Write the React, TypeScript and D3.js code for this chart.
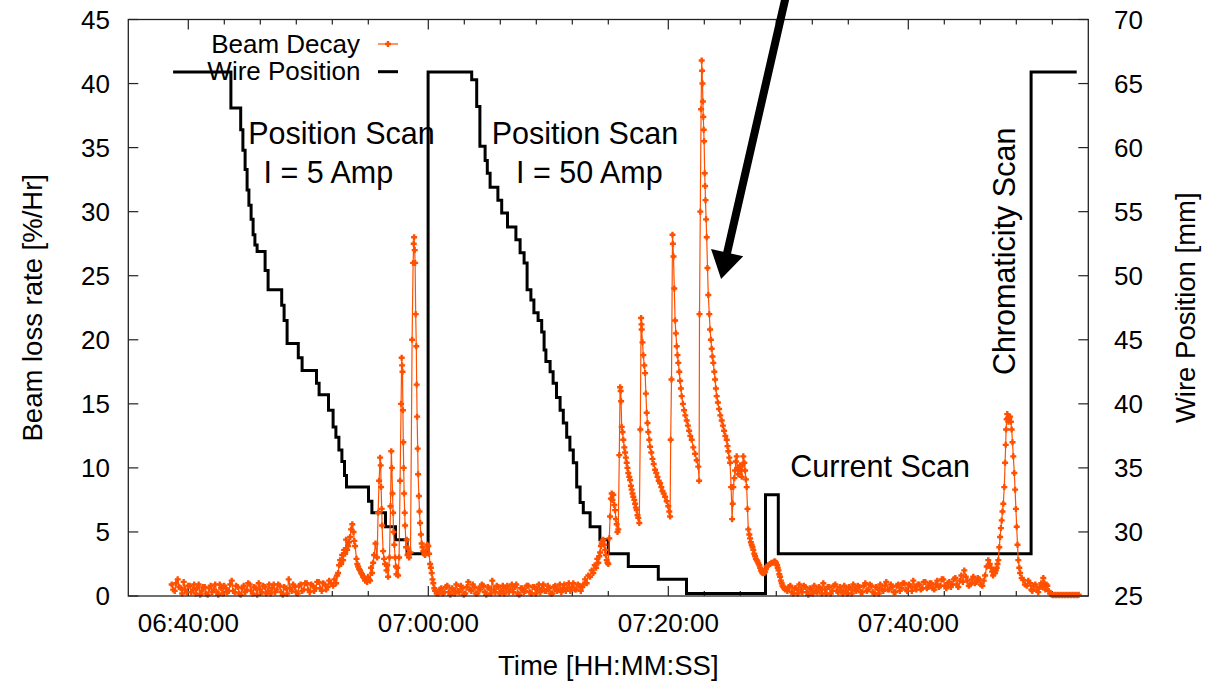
import React from "react";
import * as d3 from "d3";

const parseTime = d3.timeParse("%H:%M:%S") as (s: string) => Date;
const fmtTime = d3.timeFormat("%H:%M:%S");

// ---------- axes ----------
const timeDomain = ["06:35:00", "07:55:00"];
const beamDomain = [0, 45];
const wireDomain = [25, 70];
const majorTickMinutes = 20;
const minorTickMinutes = 3;
const minorTicksPerMajor = 5;

// ---------- Beam Decay [%/Hr] ----------
const sampleStepMs = 7500;

const quiet1Start = "06:38:37";
const quiet1Values = [
  0.9, 0.5, 0.4, 1.0, 1.3, 0.7, 0.6, 0.2, 1.1, 0.5,
  0.3, 0.8, 0.8, 0.3, 0.5, 0.9, 0.2, 0.6, 0.9, 0.1,
  0.4, 0.7, 0.7, 0.2, 0.1, 0.6, 0.8, 0.3, 0.5, 0.9,
  0.3, 0.1, 0.9, 0.6, 0.2, 0.8, 0.6, 0.3, 0.4, 0.9,
  1.2, 0.4, 0.3, 0.8, 0.7, 0.2, 0.1, 0.6, 0.8, 0.3,
  0.5, 1.0, 0.9, 0.4, 0.2, 0.7, 0.6, 0.1, 1.0, 0.5,
  0.3, 0.8, 0.7, 0.2, 0.4, 0.9, 0.2, 0.6, 0.9, 0.3,
  0.5, 0.9, 0.8, 0.3, 0.1, 0.7, 0.6, 0.2, 1.3, 0.6,
  0.4, 0.9, 0.7, 0.3, 0.2, 0.8, 0.9, 0.4, 0.5, 1.0,
  1.0, 0.5, 0.3, 0.9, 0.8, 0.4, 0.6, 1.1, 1.1, 0.6,
  0.4, 1.0, 0.9, 0.5, 0.7, 1.2, 1.0,
];

const burst1: [string, number][] = [
  ["06:52:04", 0.8], ["06:52:11", 1.3], ["06:52:19", 1.0], ["06:52:24", 1.6], ["06:52:29", 1.8],
  ["06:52:34", 2.4], ["06:52:39", 2.8], ["06:52:44", 2.5], ["06:52:49", 3.2], ["06:52:54", 2.8],
  ["06:52:59", 3.6], ["06:53:04", 3.3], ["06:53:09", 4.4], ["06:53:14", 3.6], ["06:53:19", 3.9],
  ["06:53:24", 4.2], ["06:53:29", 4.6], ["06:53:34", 5.2], ["06:53:40", 5.6], ["06:53:46", 5.0],
  ["06:53:50", 4.3], ["06:53:54", 3.9], ["06:54:01", 2.9], ["06:54:05", 2.5], ["06:54:09", 2.3],
  ["06:54:14", 2.1], ["06:54:19", 2.0], ["06:54:24", 1.8], ["06:54:29", 1.7], ["06:54:34", 1.5],
  ["06:54:39", 1.4], ["06:54:44", 1.2], ["06:54:49", 1.3], ["06:54:54", 1.1], ["06:54:59", 1.5],
  ["06:55:04", 1.3], ["06:55:09", 1.2], ["06:55:14", 2.2], ["06:55:19", 1.8], ["06:55:24", 2.6],
  ["06:55:29", 3.2], ["06:55:36", 4.1], ["06:55:44", 3.0], ["06:55:49", 6.5], ["06:55:54", 9.0],
  ["06:55:59", 10.8], ["06:56:02", 10.2], ["06:56:04", 8.5], ["06:56:07", 6.8], ["06:56:09", 5.5],
  ["06:56:14", 3.5], ["06:56:19", 2.9], ["06:56:24", 2.5], ["06:56:31", 2.0], ["06:56:35", 2.4],
  ["06:56:39", 1.5], ["06:56:46", 3.0], ["06:56:51", 7.0], ["06:56:55", 11.3], ["06:56:58", 10.0],
  ["06:57:01", 8.0], ["06:57:04", 6.5], ["06:57:06", 5.0], ["06:57:10", 4.0], ["06:57:14", 3.0],
  ["06:57:18", 2.3], ["06:57:21", 1.7], ["06:57:25", 2.2], ["06:57:29", 1.6], ["06:57:34", 3.0],
  ["06:57:39", 9.0], ["06:57:44", 15.0], ["06:57:47", 18.6], ["06:57:49", 18.0], ["06:57:51", 17.5],
  ["06:57:53", 14.5], ["06:57:55", 12.0], ["06:57:57", 10.0], ["06:57:59", 8.0], ["06:58:02", 6.5],
  ["06:58:04", 5.5], ["06:58:09", 3.8], ["06:58:12", 4.4], ["06:58:16", 3.2], ["06:58:20", 3.7],
  ["06:58:24", 3.0], ["06:58:31", 3.4], ["06:58:39", 20.0], ["06:58:44", 26.0], ["06:58:47", 27.5],
  ["06:58:49", 28.0], ["06:58:52", 27.0], ["06:58:54", 26.0], ["06:58:57", 22.0], ["06:59:00", 19.5],
  ["06:59:02", 16.5], ["06:59:04", 14.0], ["06:59:07", 11.5], ["06:59:09", 9.5], ["06:59:13", 7.8],
  ["06:59:16", 6.6], ["06:59:19", 5.7], ["06:59:23", 4.8], ["06:59:27", 4.1], ["06:59:31", 3.8],
  ["06:59:35", 3.5], ["06:59:40", 3.3], ["06:59:44", 3.2], ["06:59:51", 3.6], ["06:59:55", 4.0],
  ["07:00:00", 3.9], ["07:00:04", 3.3], ["07:00:09", 2.5], ["07:00:13", 2.2], ["07:00:17", 1.8],
  ["07:00:21", 1.3], ["07:00:25", 1.0], ["07:00:30", 0.6], ["07:00:34", 0.4], ["07:00:42", 0.2],
];

const quiet2Start = "07:00:50";
const quiet2Values = [
  0.2, 0.5, 0.6, 0.2, 0.3, 0.7, 0.8, 0.3, 0.1, 0.6,
  0.5, 0.2, 0.9, 0.4, 0.3, 0.8, 0.6, 0.1, 0.2, 0.7,
  1.1, 0.5, 0.4, 0.9, 0.7, 0.2, 0.2, 0.6, 0.5, 0.9,
  0.8, 0.3, 0.1, 0.7, 0.6, 0.2, 1.2, 0.5, 0.3, 0.8,
  0.7, 0.2, 0.4, 0.8, 0.2, 0.6, 0.8, 0.3, 0.5, 0.9,
  0.3, 0.7, 0.9, 0.2, 0.1, 0.6, 0.6, 0.3, 0.4, 0.8,
  0.8, 0.3, 0.2, 0.7, 0.7, 0.2, 0.5, 0.9, 0.3, 0.6,
  0.9, 0.4, 0.4, 0.8, 0.6, 0.2, 0.2, 0.7, 0.8, 0.4,
  0.5, 0.9, 0.3, 0.6, 0.9, 0.4, 0.6, 1.0, 0.4, 0.7,
  1.0, 0.5, 0.5, 0.9, 0.8, 0.4, 0.7,
];

const burst2: [string, number][] = [
  ["07:12:55", 0.9], ["07:13:04", 1.3], ["07:13:12", 1.0], ["07:13:20", 1.6], ["07:13:29", 1.5],
  ["07:13:37", 2.0], ["07:13:45", 1.8], ["07:13:52", 2.4], ["07:13:59", 2.2], ["07:14:05", 2.9],
  ["07:14:10", 2.6], ["07:14:15", 3.1], ["07:14:19", 3.4], ["07:14:23", 3.9], ["07:14:27", 4.1],
  ["07:14:31", 4.3], ["07:14:35", 4.4], ["07:14:40", 4.0], ["07:14:44", 3.6], ["07:14:48", 3.2],
  ["07:14:52", 2.8], ["07:14:56", 2.6], ["07:15:00", 2.5], ["07:15:05", 4.5], ["07:15:09", 6.2],
  ["07:15:13", 7.6], ["07:15:17", 8.0], ["07:15:21", 7.5], ["07:15:25", 7.9], ["07:15:30", 7.1],
  ["07:15:34", 6.7], ["07:15:38", 6.0], ["07:15:42", 5.6], ["07:15:46", 5.0], ["07:15:50", 5.2],
  ["07:15:55", 11.0], ["07:15:59", 16.3], ["07:16:02", 16.0], ["07:16:04", 15.2], ["07:16:07", 13.2],
  ["07:16:11", 12.8], ["07:16:15", 12.2], ["07:16:20", 11.6], ["07:16:24", 11.2], ["07:16:28", 10.8],
  ["07:16:32", 10.4], ["07:16:36", 10.0], ["07:16:40", 9.6], ["07:16:45", 9.3], ["07:16:49", 9.05],
  ["07:16:53", 8.6], ["07:16:57", 8.3], ["07:17:01", 8.0], ["07:17:05", 7.75], ["07:17:10", 7.5],
  ["07:17:14", 7.2], ["07:17:18", 6.9], ["07:17:22", 6.7], ["07:17:26", 6.3], ["07:17:30", 6.1],
  ["07:17:35", 5.7], ["07:17:40", 13.0], ["07:17:44", 21.7], ["07:17:46", 21.2], ["07:17:47", 20.8],
  ["07:17:51", 19.8], ["07:17:55", 18.8], ["07:18:00", 18.0], ["07:18:04", 17.4], ["07:18:08", 15.8],
  ["07:18:12", 14.3], ["07:18:16", 13.5], ["07:18:20", 12.8], ["07:18:25", 12.2], ["07:18:29", 11.65],
  ["07:18:35", 11.2], ["07:18:41", 10.7], ["07:18:47", 10.3], ["07:18:54", 9.85], ["07:19:00", 9.6],
  ["07:19:06", 9.3], ["07:19:12", 9.0], ["07:19:19", 8.8], ["07:19:25", 8.5], ["07:19:31", 8.2],
  ["07:19:37", 8.0], ["07:19:44", 7.75], ["07:19:52", 7.4], ["07:20:00", 7.0], ["07:20:05", 6.6],
  ["07:20:09", 6.2], ["07:20:12", 12.2], ["07:20:16", 16.9], ["07:20:21", 28.2], ["07:20:23", 27.5],
  ["07:20:26", 26.5], ["07:20:30", 24.0], ["07:20:34", 21.5], ["07:20:38", 20.5], ["07:20:42", 19.5],
  ["07:20:46", 18.8], ["07:20:50", 18.2], ["07:20:55", 17.5], ["07:20:59", 16.8], ["07:21:03", 16.2],
  ["07:21:07", 15.6], ["07:21:13", 15.0], ["07:21:19", 14.5], ["07:21:25", 14.1], ["07:21:32", 13.7],
  ["07:21:38", 13.3], ["07:21:44", 12.9], ["07:21:50", 12.5], ["07:21:57", 12.2], ["07:22:05", 11.6],
  ["07:22:14", 11.1], ["07:22:22", 10.6], ["07:22:30", 10.1], ["07:22:34", 9.0], ["07:22:36", 22.0],
  ["07:22:40", 30.0], ["07:22:44", 38.0], ["07:22:47", 41.8], ["07:22:49", 41.0], ["07:22:51", 40.0],
  ["07:22:53", 38.6], ["07:22:55", 37.4], ["07:22:57", 36.4], ["07:22:59", 35.5], ["07:23:02", 33.0],
  ["07:23:04", 32.0], ["07:23:06", 30.9], ["07:23:09", 29.4], ["07:23:12", 28.0], ["07:23:16", 25.6],
  ["07:23:20", 23.5], ["07:23:25", 22.0], ["07:23:29", 20.8], ["07:23:33", 20.0], ["07:23:37", 19.3],
  ["07:23:41", 18.7], ["07:23:45", 18.2], ["07:23:50", 17.5], ["07:23:54", 16.9], ["07:23:58", 16.2],
  ["07:24:02", 15.6], ["07:24:08", 15.1], ["07:24:14", 14.6], ["07:24:20", 14.1], ["07:24:27", 13.7],
  ["07:24:33", 13.3], ["07:24:39", 12.9], ["07:24:45", 12.5], ["07:24:52", 12.2], ["07:24:56", 11.7],
  ["07:25:00", 11.3], ["07:25:05", 10.8], ["07:25:09", 10.4], ["07:25:14", 8.5], ["07:25:19", 6.0],
  ["07:25:22", 7.2], ["07:25:25", 8.5], ["07:25:30", 9.2], ["07:25:34", 9.8], ["07:25:38", 10.5],
  ["07:25:42", 10.9], ["07:25:46", 10.0], ["07:25:50", 9.5], ["07:25:55", 9.9], ["07:25:59", 10.2],
  ["07:26:03", 9.8], ["07:26:07", 9.3], ["07:26:11", 10.2], ["07:26:15", 10.9], ["07:26:20", 10.4],
  ["07:26:24", 9.8], ["07:26:28", 9.1], ["07:26:32", 8.5], ["07:26:36", 6.8], ["07:26:40", 5.2],
  ["07:26:45", 4.8], ["07:26:49", 4.5], ["07:26:53", 4.2], ["07:26:57", 4.0], ["07:27:01", 3.8],
  ["07:27:05", 3.6], ["07:27:10", 3.3], ["07:27:14", 3.1], ["07:27:18", 2.9], ["07:27:22", 2.8],
  ["07:27:26", 2.7], ["07:27:30", 2.55], ["07:27:35", 2.4], ["07:27:39", 2.2], ["07:27:43", 2.0],
  ["07:27:47", 1.9], ["07:27:51", 1.8], ["07:27:55", 1.77], ["07:28:00", 1.8], ["07:28:04", 1.9],
  ["07:28:08", 2.1], ["07:28:12", 2.3], ["07:28:20", 2.4], ["07:28:29", 2.5], ["07:28:36", 2.6],
  ["07:28:44", 2.6], ["07:28:49", 2.7], ["07:28:54", 2.7], ["07:28:59", 2.6], ["07:29:04", 2.4],
  ["07:29:07", 2.2], ["07:29:11", 2.0], ["07:29:15", 1.7], ["07:29:19", 1.5], ["07:29:23", 1.2],
  ["07:29:27", 1.0], ["07:29:31", 0.8], ["07:29:35", 0.7], ["07:29:40", 0.6], ["07:29:44", 0.5],
];

const quiet3Start = "07:29:55";
const quiet3Values = [
  0.4, 0.7, 0.8, 0.3, 0.2, 0.6, 0.6, 0.2, 0.9, 0.5,
  0.3, 0.8, 0.7, 0.3, 0.1, 0.6, 0.5, 0.2, 0.8, 0.4,
  0.3, 0.7, 0.6, 0.2, 1.0, 0.5, 0.2, 0.7, 0.7, 0.2,
  0.4, 0.8, 0.9, 0.4, 0.3, 0.7, 0.5, 0.2, 0.8, 0.4,
  0.2, 0.7, 0.6, 0.2, 0.9, 0.5, 0.4, 0.8, 0.7, 0.3,
  0.3, 0.8, 1.0, 0.4, 0.5, 0.9, 0.8, 0.3, 0.2, 0.7,
  0.6, 0.2, 0.9, 0.5, 0.4, 0.8, 1.1, 0.5, 0.5, 0.9,
  0.7, 0.3, 0.3, 0.8, 0.9, 0.4, 0.6, 1.0, 1.0, 0.5,
  0.4, 0.9, 0.8, 0.4, 1.2, 0.7, 0.5, 0.9, 0.9, 0.5,
  0.6, 1.1, 1.1, 0.6, 0.7, 1.0, 1.0, 0.6, 0.5, 0.9,
  1.2, 0.7, 0.8, 1.3, 1.3, 0.8, 0.6, 1.0, 1.1, 0.7,
  0.9, 1.3, 1.4, 0.9, 0.7, 1.2, 1.6, 1.1, 2.0, 1.5,
  1.2, 0.8, 0.9, 1.3, 1.5, 1.0, 1.1, 1.4, 1.3, 0.9,
  0.8,
];

const burst3: [string, number][] = [
  ["07:46:17", 1.2], ["07:46:24", 1.6], ["07:46:32", 2.3], ["07:46:40", 2.8], ["07:46:47", 2.5],
  ["07:46:54", 2.2], ["07:46:59", 1.9], ["07:47:04", 1.6], ["07:47:09", 2.0], ["07:47:14", 1.8],
  ["07:47:18", 2.0], ["07:47:22", 2.2], ["07:47:26", 2.5], ["07:47:30", 2.8], ["07:47:35", 3.8],
  ["07:47:39", 4.6], ["07:47:43", 5.3], ["07:47:47", 5.9], ["07:47:51", 6.6], ["07:47:55", 7.2],
  ["07:48:00", 8.5], ["07:48:04", 10.4], ["07:48:07", 11.8], ["07:48:09", 13.0], ["07:48:12", 13.8],
  ["07:48:15", 14.2], ["07:48:18", 13.9], ["07:48:21", 13.6], ["07:48:25", 13.9], ["07:48:29", 14.0],
  ["07:48:33", 13.6], ["07:48:37", 13.0], ["07:48:41", 12.0], ["07:48:45", 10.9], ["07:48:50", 9.6],
  ["07:48:54", 8.3], ["07:48:58", 6.8], ["07:49:02", 5.4], ["07:49:06", 4.0], ["07:49:10", 2.8],
  ["07:49:15", 2.2], ["07:49:19", 1.8], ["07:49:27", 1.4], ["07:49:35", 1.25], ["07:49:43", 0.9],
  ["07:49:52", 0.8], ["07:50:00", 1.2], ["07:50:09", 1.0], ["07:50:15", 0.5], ["07:50:20", 0.4],
  ["07:50:27", 0.8], ["07:50:35", 0.9], ["07:50:42", 0.5], ["07:50:50", 0.3], ["07:50:57", 0.7],
  ["07:51:05", 1.0], ["07:51:10", 0.7], ["07:51:15", 1.4], ["07:51:20", 1.0], ["07:51:25", 0.5],
  ["07:51:30", 0.9], ["07:51:35", 0.8], ["07:51:42", 0.4], ["07:51:49", 0.2],
];

const quiet4Start = "07:51:57";
const quiet4Values = [
  0.1, 0.05, 0.1, 0.05, 0.1, 0.05, 0.1, 0.05, 0.1, 0.05,
  0.1, 0.05, 0.1, 0.05, 0.1, 0.05, 0.1, 0.05, 0.1,
];

// ---------- Wire Position [mm] (step changes) ----------
const wirePosition: [string, number][] = [
  ["06:38:44", 65.9], ["06:43:33", 63.1], ["06:44:22", 61.4], ["06:44:33", 59.8], ["06:44:44", 58.3],
  ["06:44:54", 56.7], ["06:45:03", 55.5], ["06:45:14", 54.4], ["06:45:24", 53.2], ["06:45:33", 52.4],
  ["06:45:44", 51.9], ["06:46:24", 50.4], ["06:46:39", 48.9], ["06:47:47", 47.7], ["06:47:59", 46.5],
  ["06:48:14", 44.7], ["06:49:10", 43.6], ["06:49:29", 42.6], ["06:50:41", 41.6], ["06:50:54", 40.7],
  ["06:51:41", 39.5], ["06:52:04", 38.2], ["06:52:18", 37.4], ["06:52:33", 36.4], ["06:52:48", 35.5],
  ["06:53:01", 34.4], ["06:53:11", 33.5], ["06:55:01", 32.4], ["06:55:18", 31.5], ["06:56:26", 30.4],
  ["06:57:16", 29.4], ["06:58:14", 28.3], ["06:59:59", 65.9], ["07:03:37", 65.3], ["07:04:02", 63.2],
  ["07:04:18", 60.1], ["07:04:44", 59.0], ["07:04:55", 58.0], ["07:05:09", 56.9], ["07:05:48", 55.9],
  ["07:06:07", 54.9], ["07:06:36", 53.8], ["07:07:18", 52.8], ["07:07:39", 51.8], ["07:07:59", 51.0],
  ["07:08:14", 48.9], ["07:08:33", 48.1], ["07:08:48", 47.1], ["07:09:09", 46.5], ["07:09:27", 45.6],
  ["07:09:39", 44.2], ["07:09:48", 43.3], ["07:10:09", 42.5], ["07:10:24", 41.6], ["07:10:41", 40.5],
  ["07:10:59", 39.5], ["07:11:15", 38.5], ["07:11:32", 37.4], ["07:11:48", 36.4], ["07:12:05", 35.4],
  ["07:12:22", 33.5], ["07:12:39", 32.3], ["07:12:55", 31.5], ["07:13:29", 30.4], ["07:14:18", 29.4],
  ["07:15:00", 28.3], ["07:16:40", 27.3], ["07:19:10", 26.3], ["07:21:31", 25.2], ["07:28:06", 32.9],
  ["07:29:10", 28.3], ["07:50:14", 65.9], ["07:54:02", 65.9],
];

// ---------- texts ----------
const xAxisTitle = "Time [HH:MM:SS]";
const yLeftTitle = "Beam loss rate [%/Hr]";
const yRightTitle = "Wire Position [mm]";
const legendLabels = ["Beam Decay", "Wire Position"];
// annotation: [text, time, beam-axis value, rotated]
const annotations: [string, string, number, boolean][] = [
  ["Position Scan", "06:52:46", 35.3, false],
  ["I = 5 Amp", "06:51:40", 32.2, false],
  ["Position Scan", "07:13:03", 35.3, false],
  ["I = 50 Amp", "07:13:25", 32.2, false],
  ["Current Scan", "07:37:39", 9.3, false],
  ["Chromaticity Scan", "07:48:54", 26.9, true],
];
// arrow from [time, value] to [time, value]
const arrowFrom: [string, number] = ["07:29:49", 46.9];
const arrowTo: [string, number] = ["07:24:24", 24.75];

const ORANGE = "#ff5000";
const FONT = "'Liberation Sans', Arial, Helvetica, sans-serif";

function sampled(start: string, values: number[]): [Date, number][] {
  const t0 = parseTime(start);
  return values.map((v, i) => [d3.timeMillisecond.offset(t0, i * sampleStepMs), v]);
}
const pairs = (arr: [string, number][]): [Date, number][] => arr.map(([t, v]) => [parseTime(t), v]);

export default function App() {
  const W = 1215, H = 681;
  const left = 128.3, right = 1088.3, top = 19.5, bottom = 596;

  const x = d3.scaleTime().domain(timeDomain.map(parseTime)).range([left, right]);
  const yL = d3.scaleLinear().domain(beamDomain).range([bottom, top]);
  const yR = d3.scaleLinear().domain(wireDomain).range([bottom, top]);

  const beam: [Date, number][] = [
    ...sampled(quiet1Start, quiet1Values),
    ...pairs(burst1),
    ...sampled(quiet2Start, quiet2Values),
    ...pairs(burst2),
    ...sampled(quiet3Start, quiet3Values),
    ...pairs(burst3),
    ...sampled(quiet4Start, quiet4Values),
  ];
  const wire = pairs(wirePosition);

  const beamLine = d3.line<[Date, number]>().x((d) => x(d[0])).y((d) => yL(d[1]))(beam) || "";
  const wireLine = d3
    .line<[Date, number]>()
    .x((d) => x(d[0]))
    .y((d) => yR(d[1]))
    .curve(d3.curveStepAfter)(wire) || "";

  const majors = x.ticks(d3.timeMinute.every(majorTickMinutes) as any);
  const minors: Date[] = [];
  majors.forEach((m) => {
    for (let k = 1; k <= minorTicksPerMajor; k++) {
      const t = d3.timeMinute.offset(m, k * minorTickMinutes);
      if (x(t) < right - 1) minors.push(t);
    }
  });
  const leftTicks = yL.ticks(9);
  const rightTicks = yR.ticks(9);

  // arrow geometry
  const ax0 = x(parseTime(arrowFrom[0])), ay0 = yL(arrowFrom[1]);
  const ax1 = x(parseTime(arrowTo[0])), ay1 = yL(arrowTo[1]);
  const len = Math.hypot(ax1 - ax0, ay1 - ay0);
  const ux = (ax1 - ax0) / len, uy = (ay1 - ay0) / len;
  const headL = 27, headW = 16.5;
  const bx = ax1 - ux * headL, by = ay1 - uy * headL;
  const px = -uy, py = ux;
  const head = `M${ax1},${ay1}L${bx + px * headW},${by + py * headW}L${bx - px * headW},${by - py * headW}Z`;

  const marker = (cx: number, cy: number, key?: any) => (
    <path key={key} d={`M${cx - 3},${cy}H${cx + 3}M${cx},${cy - 3}V${cy + 3}`} stroke={ORANGE} strokeWidth={2.4} />
  );

  return (
    <svg width={W} height={H} style={{ position: "absolute", left: 0, top: 0, background: "#fff" }} fontFamily={FONT}>
      <rect x={0} y={0} width={W} height={H} fill="#fff" />
      {/* ticks */}
      <g stroke="#222" strokeWidth={1.2}>
        {majors.map((t, i) => (
          <g key={"mj" + i}>
            <line x1={x(t)} x2={x(t)} y1={bottom} y2={bottom - 10} />
            <line x1={x(t)} x2={x(t)} y1={top} y2={top + 10} />
          </g>
        ))}
        {minors.map((t, i) => (
          <g key={"mn" + i}>
            <line x1={x(t)} x2={x(t)} y1={bottom} y2={bottom - 5} />
            <line x1={x(t)} x2={x(t)} y1={top} y2={top + 5} />
          </g>
        ))}
        {leftTicks.map((v) => (
          <line key={"lt" + v} x1={left} x2={left + 10} y1={yL(v)} y2={yL(v)} />
        ))}
        {rightTicks.map((v) => (
          <line key={"rt" + v} x1={right} x2={right - 10} y1={yR(v)} y2={yR(v)} />
        ))}
      </g>
      {/* tick labels */}
      <g fontSize={26} fill="#000">
        {majors.map((t, i) => (
          <text key={"xl" + i} x={x(t)} y={631.5} textAnchor="middle">
            {fmtTime(t)}
          </text>
        ))}
        {leftTicks.map((v) => (
          <text key={"ll" + v} x={110} y={yL(v)} dy="0.35em" textAnchor="end">
            {v}
          </text>
        ))}
        {rightTicks.map((v) => (
          <text key={"rl" + v} x={1114} y={yR(v)} dy="0.35em" textAnchor="start">
            {v}
          </text>
        ))}
      </g>
      {/* axis titles */}
      <g fontSize={27.5} fill="#000">
        <text x={(left + right) / 2} y={675} textAnchor="middle">
          {xAxisTitle}
        </text>
        <text transform={`translate(41.5,${(top + bottom) / 2}) rotate(-90)`} textAnchor="middle">
          {yLeftTitle}
        </text>
        <text transform={`translate(1195,${(top + bottom) / 2}) rotate(-90)`} textAnchor="middle">
          {yRightTitle}
        </text>
      </g>
      {/* legend */}
      <g fontSize={26} fill="#000">
        <text x={360} y={53.3} textAnchor="end">
          {legendLabels[0]}
        </text>
        <text x={360.5} y={80} textAnchor="end">
          {legendLabels[1]}
        </text>
        <line x1={378} x2={398} y1={44} y2={44} stroke={ORANGE} strokeWidth={1.2} />
        {marker(388, 44)}
        <line x1={378} x2={398} y1={71.7} y2={71.7} stroke="#000" strokeWidth={3} />
      </g>
      {/* annotations */}
      <g fontSize={30.5} fill="#000">
        {annotations.map(([txt, t, v, rot], i) =>
          rot ? (
            <text key={"an" + i} transform={`translate(${x(parseTime(t))},${yL(v)}) rotate(-90)`} textAnchor="middle">
              {txt}
            </text>
          ) : (
            <text key={"an" + i} x={x(parseTime(t))} y={yL(v)} textAnchor="middle">
              {txt}
            </text>
          )
        )}
      </g>
      {/* wire position */}
      <path d={wireLine} fill="none" stroke="#000" strokeWidth={3} strokeLinejoin="miter" />
      {/* beam decay */}
      <path d={beamLine} fill="none" stroke={ORANGE} strokeWidth={1.2} />
      <g>{beam.map((d, i) => marker(x(d[0]), yL(d[1]), i))}</g>
      {/* frame */}
      <rect x={left} y={top} width={right - left} height={bottom - top} fill="none" stroke="#222" strokeWidth={1.3} />
      {/* arrow */}
      <line x1={ax0} y1={ay0} x2={bx + ux * 2} y2={by + uy * 2} stroke="#000" strokeWidth={8} />
      <path d={head} fill="#000" />
    </svg>
  );
}
